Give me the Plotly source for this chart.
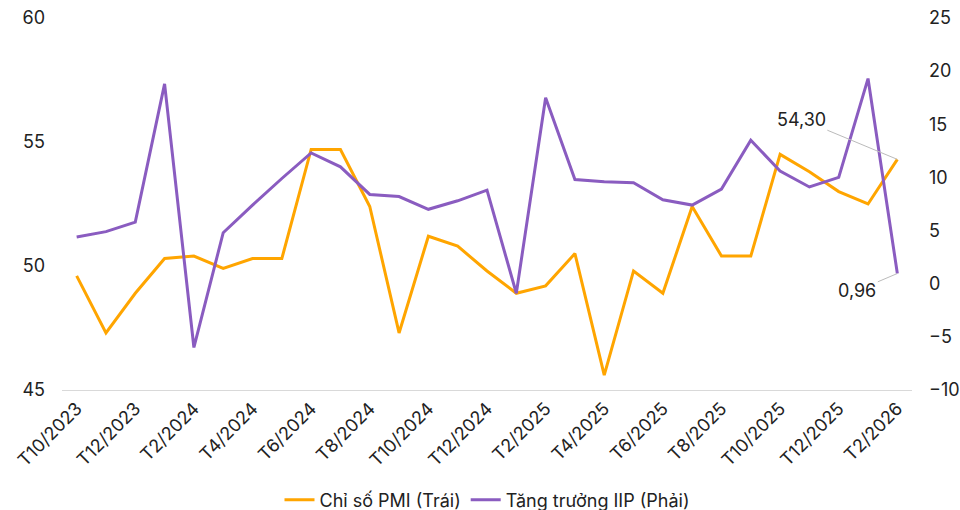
import plotly.graph_objects as go

months = ["T10/2023", "T11/2023", "T12/2023", "T1/2024", "T2/2024", "T3/2024", "T4/2024",
          "T5/2024", "T6/2024", "T7/2024", "T8/2024", "T9/2024", "T10/2024", "T11/2024",
          "T12/2024", "T1/2025", "T2/2025", "T3/2025", "T4/2025", "T5/2025", "T6/2025",
          "T7/2025", "T8/2025", "T9/2025", "T10/2025", "T11/2025", "T12/2025", "T1/2026",
          "T2/2026"]
pmi = [49.6, 47.3, 48.9, 50.3, 50.4, 49.9, 50.3, 50.3, 54.7, 54.7, 52.4, 47.3, 51.2, 50.8,
       49.8, 48.9, 49.2, 50.5, 45.6, 49.8, 48.9, 52.4, 50.4, 50.4, 54.5, 53.8, 53.0, 52.5, 54.3]
iip = [4.4, 4.9, 5.8, 18.8, -6.0, 4.8, 7.4, 9.9, 12.3, 11.0, 8.4, 8.2, 7.0, 7.8,
       8.8, -0.9, 17.5, 9.8, 9.6, 9.5, 7.9, 7.4, 8.9, 13.5, 10.6, 9.1, 10.0, 19.3, 0.96]
tick_months = months[::2]
left_ticks = [45, 50, 55, 60]
right_ticks = [-10, -5, 0, 5, 10, 15, 20, 25]

ORANGE = "#FFA500"
PURPLE = "#8A5CC0"
FONT = "Inter"

fig = go.Figure()
fig.add_trace(go.Scatter(x=months, y=pmi, mode="lines", name="Chỉ số PMI (Trái)",
                         line=dict(color=ORANGE, width=3), yaxis="y"))
fig.add_trace(go.Scatter(x=months, y=iip, mode="lines", name="Tăng trưởng IIP (Phải)",
                         line=dict(color=PURPLE, width=3), yaxis="y2"))

fig.add_annotation(x=months[-1], y=pmi[-1], xref="x", yref="y",
                   text=f"{pmi[-1]:.2f}".replace(".", ","),
                   showarrow=True, arrowhead=0, arrowwidth=1, arrowcolor="#BBBBBB",
                   ax=-96, ay=-40, font=dict(family=FONT, size=18, color="#222222"))
fig.add_annotation(x=months[-1], y=iip[-1], xref="x", yref="y2",
                   text=f"{iip[-1]:.2f}".replace(".", ","),
                   showarrow=True, arrowhead=0, arrowwidth=1, arrowcolor="#BBBBBB",
                   ax=-40, ay=17, font=dict(family=FONT, size=18, color="#222222"))

fig.update_layout(
    width=960, height=510,
    margin=dict(l=62, r=48, t=18, b=120, autoexpand=False),
    paper_bgcolor="white", plot_bgcolor="white",
    font=dict(family=FONT, size=16, color="#222222"),
    showlegend=True,
    legend=dict(orientation="h", x=0.5, xanchor="center", y=-0.296, yanchor="middle",
                font=dict(family=FONT, size=18, color="#222222"), itemwidth=30),
    xaxis=dict(type="category", categoryorder="array", categoryarray=months,
               range=[-0.5, len(months) - 0.5], automargin=False,
               tickmode="array", tickvals=tick_months, ticktext=tick_months,
               tickangle=-45, showgrid=False, showline=True, linecolor="#D9D9D9",
               linewidth=1, ticks="", tickfont=dict(family=FONT, size=18), zeroline=False),
    yaxis=dict(range=[45, 60], tickvals=left_ticks, showgrid=False, zeroline=False,
               showline=False, ticks="", automargin=False, ticklabelstandoff=16,
               tickfont=dict(family=FONT, size=18)),
    yaxis2=dict(range=[-10, 25], tickvals=right_ticks, overlaying="y", side="right",
                showgrid=False, zeroline=False, showline=False, ticks="", automargin=False,
                ticklabelstandoff=16, tickfont=dict(family=FONT, size=18)),
)

fig.write_html("out.html",
               config={"displayModeBar": False},
               post_script="document.body.style.margin='0';document.body.style.padding='0';")
